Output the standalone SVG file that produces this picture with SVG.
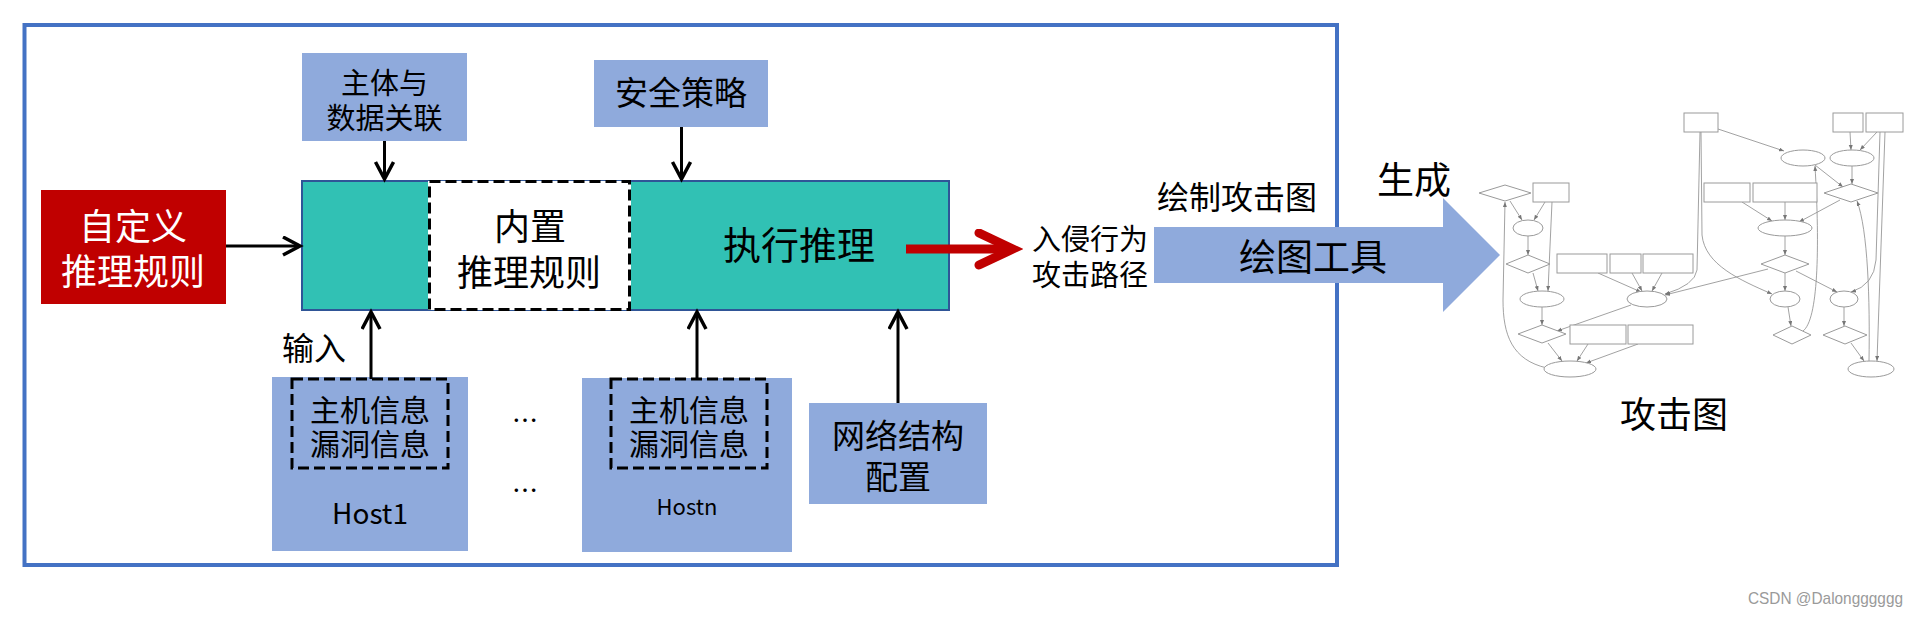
<svg xmlns="http://www.w3.org/2000/svg" width="1922" height="617" viewBox="0 0 1922 617">
<defs>
<style>
.t{font-family:"Noto Sans CJK SC","Liberation Sans",sans-serif;fill:#000;text-anchor:middle;dominant-baseline:central}
.w{fill:#fff}
.blue{fill:#8FAADC}
.conn{stroke:#000;stroke-width:3;fill:none}
.dash{fill:none;stroke:#000;stroke-width:3;stroke-dasharray:11,5}
.gn{fill:#fff;stroke:#9a9a9a;stroke-width:1}
.ge{fill:none;stroke:#8a8a8a;stroke-width:0.8;marker-end:url(#ga)}
</style>
<marker id="ah" markerUnits="userSpaceOnUse" markerWidth="24" markerHeight="24" refX="19" refY="10" orient="auto">
<path d="M2,1 L19,10 L2,19" fill="none" stroke="#000" stroke-width="3.5"/>
</marker>
<marker id="ahr" markerUnits="userSpaceOnUse" markerWidth="50" markerHeight="50" refX="40" refY="20" orient="auto">
<path d="M6,4 L40,20 L6,36" fill="none" stroke="#C00000" stroke-width="9" stroke-linecap="round"/>
</marker>
<marker id="ga" markerUnits="userSpaceOnUse" markerWidth="6" markerHeight="6" refX="5" refY="2" orient="auto">
<path d="M0,0 L5,2 L0,4 z" fill="#777"/>
</marker>
</defs>
<rect width="1922" height="617" fill="#fff"/>
<rect id="frame" x="24.5" y="25" width="1312.5" height="540" fill="none" stroke="#4472C4" stroke-width="4"/>

<g id="node-main">
<rect x="302" y="181" width="647" height="129" fill="#31C1B4" stroke="#2F5597" stroke-width="2"/>
<text class="t" x="799" y="242" font-size="38">执行推理</text>
</g>
<g id="node-builtin">
<rect x="428" y="181" width="203" height="129" fill="#fff"/>
<rect x="429.5" y="181.5" width="200" height="128" class="dash"/>
<text class="t" x="530" y="224" font-size="36">内置</text>
<text class="t" x="529" y="270" font-size="36">推理规则</text>
</g>
<g id="node-subject">
<rect x="302" y="53" width="165" height="88" class="blue"/>
<text class="t" x="384.5" y="81" font-size="29">主体与</text>
<text class="t" x="384.5" y="116" font-size="29">数据关联</text>
</g>
<g id="node-policy">
<rect x="594" y="60" width="174" height="67" class="blue"/>
<text class="t" x="681" y="91" font-size="33">安全策略</text>
</g>
<g id="node-custom">
<rect x="41" y="190" width="185" height="114" fill="#C00000"/>
<text class="t w" x="133" y="224" font-size="36">自定义</text>
<text class="t w" x="133" y="269" font-size="36">推理规则</text>
</g>
<g id="node-host1">
<rect x="272" y="377" width="196" height="174" class="blue"/>
<rect x="292" y="379" width="156" height="89" class="dash" stroke-dasharray="10,5"/>
<text class="t" x="370" y="408" font-size="30">主机信息</text>
<text class="t" x="370" y="442" font-size="30">漏洞信息</text>
<text class="t" x="370" y="512" font-size="28">Host1</text>
</g>
<g id="node-hostn">
<rect x="582" y="378" width="210" height="174" class="blue"/>
<rect x="611" y="379" width="156" height="89" class="dash" stroke-dasharray="10,5"/>
<text class="t" x="689" y="408" font-size="30">主机信息</text>
<text class="t" x="689" y="442" font-size="30">漏洞信息</text>
<text class="t" x="687" y="505" font-size="22">Hostn</text>
</g>
<g id="node-dots">
<text class="t" x="525" y="418" font-size="26">…</text>
<text class="t" x="525" y="488" font-size="26">…</text>
</g>
<g id="node-network">
<rect x="809" y="403" width="178" height="101" class="blue"/>
<text class="t" x="898" y="434" font-size="33">网络结构</text>
<text class="t" x="898" y="475" font-size="33">配置</text>
</g>
<g id="label-input">
<text class="t" x="314" y="346" font-size="32">输入</text>
</g>
<g id="label-intrusion">
<text class="t" x="1090" y="237" font-size="29">入侵行为</text>
<text class="t" x="1090" y="273" font-size="29">攻击路径</text>
</g>
<g id="label-draw">
<text class="t" x="1237" y="195" font-size="32">绘制攻击图</text>
</g>
<g id="label-gen">
<text class="t" x="1414" y="178" font-size="37">生成</text>
</g>
<g id="node-tool">
<polygon points="1154,227 1443,227 1443,198 1500,255 1443,312 1443,283 1154,283" fill="#8FAADC"/>
<text class="t" x="1313" y="255" font-size="37">绘图工具</text>
</g>

<g id="connectors">
<line x1="226" y1="246" x2="300" y2="246" class="conn" stroke-width="4.5" marker-end="url(#ah)"/>
<line x1="384.5" y1="141" x2="384.5" y2="179" class="conn" marker-end="url(#ah)"/>
<line x1="681.5" y1="127" x2="681.5" y2="179" class="conn" marker-end="url(#ah)"/>
<line x1="371" y1="379" x2="371" y2="312" class="conn" stroke-width="4" marker-end="url(#ah)"/>
<line x1="697" y1="379" x2="697" y2="312" class="conn" stroke-width="4" marker-end="url(#ah)"/>
<line x1="898" y1="403" x2="898" y2="312" class="conn" stroke-width="4" marker-end="url(#ah)"/>
<line x1="906" y1="249" x2="1013" y2="249" stroke="#C00000" stroke-width="9" marker-end="url(#ahr)"/>
</g>

<g id="attack-graph">
<g id="graph-edges">
<path class="ge" d="M1510,201 L1522,220"/>
<path class="ge" d="M1545,202 L1534,220"/>
<path class="ge" d="M1528,236 L1528,255"/>
<path class="ge" d="M1552,202 L1548,291"/>
<path class="ge" d="M1533,273 L1538,291"/>
<path class="ge" d="M1542,307 L1542,325"/>
<path class="ge" d="M1631,305 L1557,331"/>
<path class="ge" d="M1548,343 L1562,361"/>
<path class="ge" d="M1588,344 L1577,361"/>
<path class="ge" d="M1638,344 L1586,363"/>
<path class="ge" d="M1547,368 C1512,360 1503,335 1503,300 L1505,202"/>
<path class="ge" d="M1598,273 L1641,292"/>
<path class="ge" d="M1632,273 L1642,291"/>
<path class="ge" d="M1662,273 L1652,291"/>
<path class="ge" d="M1700,132 L1697,270 Q1695,285 1665,294"/>
<path class="ge" d="M1768,269 L1665,295"/>
<path class="ge" d="M1718,129 L1784,151"/>
<path class="ge" d="M1701,132 L1702,235 C1705,265 1740,280 1772,294"/>
<path class="ge" d="M1850,132 L1851,150"/>
<path class="ge" d="M1877,132 L1860,150"/>
<path class="ge" d="M1885,132 L1877,361"/>
<path class="ge" d="M1815,165 L1843,187"/>
<path class="ge" d="M1852,166 L1852,184"/>
<path class="ge" d="M1840,200 L1799,222"/>
<path class="ge" d="M1742,202 L1772,221"/>
<path class="ge" d="M1785,202 L1785,220"/>
<path class="ge" d="M1785,236 L1785,255"/>
<path class="ge" d="M1785,273 L1785,291"/>
<path class="ge" d="M1796,271 L1837,292"/>
<path class="ge" d="M1788,307 L1791,326"/>
<path class="ge" d="M1803,331 C1818,320 1820,250 1815,166"/>
<path class="ge" d="M1869,361 C1870,300 1868,230 1857,201"/>
<path class="ge" d="M1880,132 L1876,260 Q1874,285 1851,292"/>
<path class="ge" d="M1844,307 L1844,326"/>
<path class="ge" d="M1851,343 L1864,361"/>
</g>
<g id="graph-nodes">
<rect class="gn" x="1684" y="113" width="34" height="19"/>
<rect class="gn" x="1833" y="113" width="30" height="19"/>
<rect class="gn" x="1866" y="113" width="37" height="19"/>
<rect class="gn" x="1533" y="183" width="36" height="19"/>
<rect class="gn" x="1704" y="183" width="46" height="19"/>
<rect class="gn" x="1753" y="183" width="64" height="19"/>
<rect class="gn" x="1557" y="254" width="50" height="19"/>
<rect class="gn" x="1610" y="254" width="31" height="19"/>
<rect class="gn" x="1643" y="254" width="50" height="19"/>
<rect class="gn" x="1570" y="325" width="56" height="19"/>
<rect class="gn" x="1628" y="325" width="65" height="19"/>
<polygon class="gn" points="1479,193 1505,185 1531,193 1505,201"/>
<polygon class="gn" points="1506,264 1528,255 1550,264 1528,273"/>
<polygon class="gn" points="1518,334 1542,325 1566,334 1542,343"/>
<polygon class="gn" points="1824,193 1851,184 1878,193 1851,202"/>
<polygon class="gn" points="1761,264 1785,255 1809,264 1785,273"/>
<polygon class="gn" points="1773,335 1792,326 1811,335 1792,344"/>
<polygon class="gn" points="1823,335 1845,326 1867,335 1845,344"/>
<ellipse class="gn" cx="1528" cy="228" rx="15" ry="8"/>
<ellipse class="gn" cx="1542" cy="299" rx="22" ry="8"/>
<ellipse class="gn" cx="1570" cy="369" rx="26" ry="8"/>
<ellipse class="gn" cx="1647" cy="299" rx="20" ry="8"/>
<ellipse class="gn" cx="1803" cy="158" rx="22" ry="8"/>
<ellipse class="gn" cx="1852" cy="158" rx="22" ry="8"/>
<ellipse class="gn" cx="1785" cy="228" rx="27" ry="8"/>
<ellipse class="gn" cx="1785" cy="299" rx="15" ry="8"/>
<ellipse class="gn" cx="1844" cy="299" rx="14" ry="8"/>
<ellipse class="gn" cx="1871" cy="369" rx="23" ry="8"/>
</g>
</g>
<g id="label-graph">
<text class="t" x="1674" y="412" font-size="36">攻击图</text>
</g>
<g id="watermark">
<text x="1748" y="604" font-family="Liberation Sans, sans-serif" font-size="17" fill="#9a9a9a" textLength="155" lengthAdjust="spacingAndGlyphs">CSDN @Dalongggggg</text>
</g>
</svg>
